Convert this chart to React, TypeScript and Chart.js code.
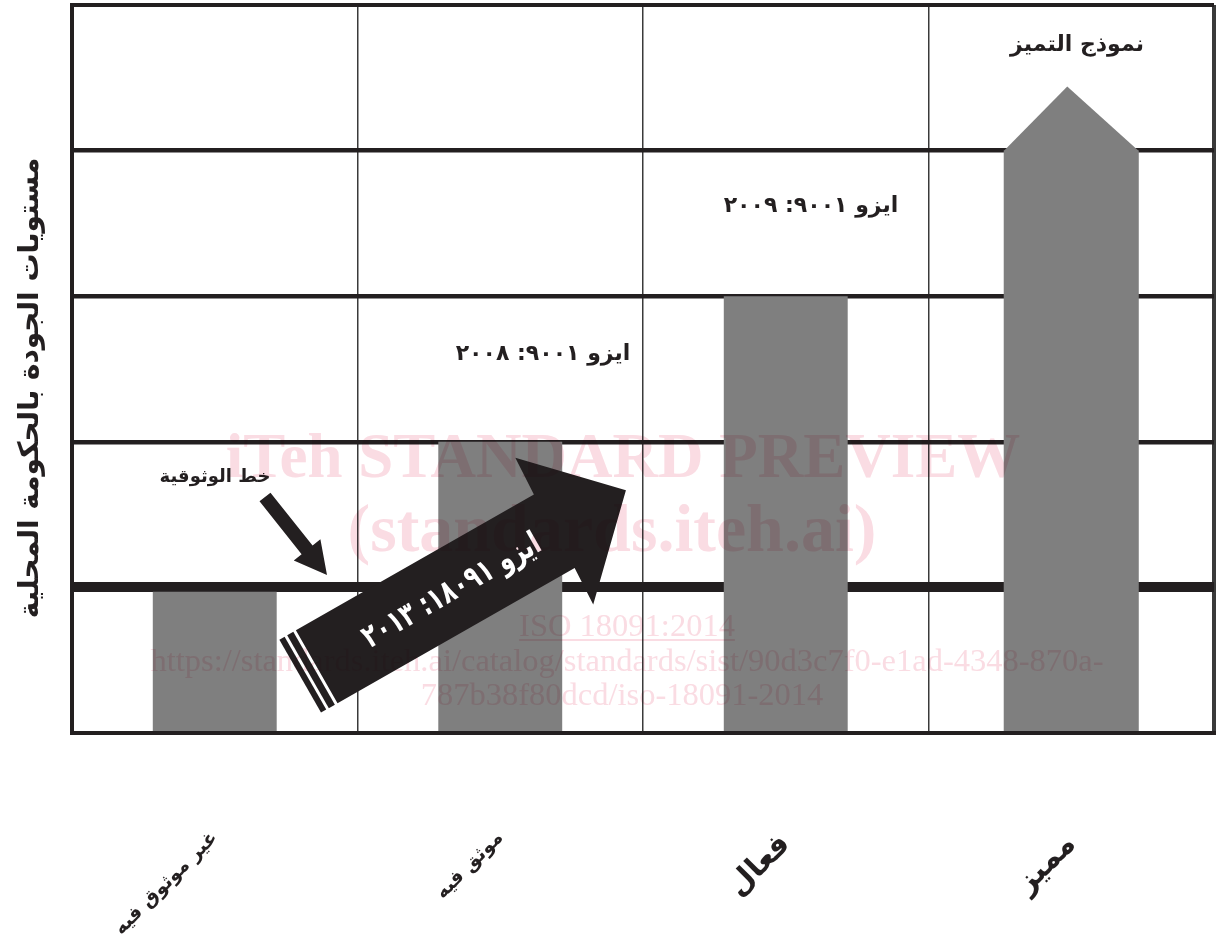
import React, { useEffect, useRef } from "react";
import { Chart, registerables } from "chart.js";

Chart.register(...registerables);

// ---------- data ----------
const categories = ["غير موثوق فيه", "موثق فيه", "فعال", "مميز"];
const levelValues = [0.97, 2, 3, null];
const excellenceValues = [null, null, null, 4];
const excellenceTip = 4.44;
const yTitle = "مستويات الجودة بالحكومة المحلية";
const noteTexts = ["نموذج التميز", "ايزو ٩٠٠١: ٢٠٠٩", "ايزو ٩٠٠١: ٢٠٠٨", "خط الوثوقية"];
const arrowText = "ايزو ١٨٠٩١: ٢٠١٣";
const watermarkBig = ["iTeh STANDARD PREVIEW", "(standards.iteh.ai)"];
const watermarkSmall = [
  "ISO 18091:2014",
  "https://standards.iteh.ai/catalog/standards/sist/90d3c7f0-e1ad-4348-870a-",
  "787b38f80dcd/iso-18091-2014",
];

const INK = "#231f20";
const BAR = "#7f7f7f";
const AR_FONT = "'DejaVu Sans', sans-serif";

const annotationPlugin = {
  id: "annotations",
  afterDatasetsDraw(chart: any) {
    const { ctx, chartArea: ca, scales } = chart;
    const sx = ca.width / 1142;
    const sy = ca.height / 728;
    const P = (x: number, y: number): [number, number] => [ca.left + (x - 72) * sx, ca.top + (y - 5) * sy];

    ctx.save();
    // roof of the excellence bar
    const meta = chart.getDatasetMeta(1);
    const el: any = meta.data[3];
    if (el) {
      const half = el.width / 2;
      const apexY = scales.y.getPixelForValue(excellenceTip);
      ctx.fillStyle = BAR;
      ctx.beginPath();
      ctx.moveTo(el.x - half, el.y + 0.5);
      ctx.lineTo(el.x - 4, apexY);
      ctx.lineTo(el.x + half, el.y + 0.5);
      ctx.closePath();
      ctx.fill();
    }

    // small arrow pointing at the reliability line
    {
      const [x0, y0] = P(265, 497);
      const [x1, y1] = P(327, 575);
      const L = Math.hypot(x1 - x0, y1 - y0);
      ctx.save();
      ctx.translate(x0, y0);
      ctx.rotate(Math.atan2(y1 - y0, x1 - x0));
      ctx.fillStyle = INK;
      ctx.beginPath();
      ctx.moveTo(0, -7);
      ctx.lineTo(L - 32, -7);
      ctx.lineTo(L - 32, -17);
      ctx.lineTo(L, 0);
      ctx.lineTo(L - 32, 17);
      ctx.lineTo(L - 32, 7);
      ctx.lineTo(0, 7);
      ctx.closePath();
      ctx.fill();
      ctx.restore();
    }

    // big arrow
    {
      const [ox, oy] = P(316.7, 666.7);
      ctx.save();
      ctx.translate(ox, oy);
      ctx.rotate(Math.atan2(-0.4955, 0.8686));
      ctx.fillStyle = INK;
      ctx.fillRect(-19, -42, 6, 84);
      ctx.fillRect(-10, -42, 7, 84);
      ctx.beginPath();
      ctx.moveTo(0, -42);
      ctx.lineTo(274, -42);
      ctx.lineTo(276, -83);
      ctx.lineTo(356, 0);
      ctx.lineTo(271, 83);
      ctx.lineTo(273, 42);
      ctx.lineTo(0, 42);
      ctx.closePath();
      ctx.fill();
      ctx.fillStyle = "#ffffff";
      ctx.font = `bold 32px ${AR_FONT}`;
      ctx.textAlign = "center";
      ctx.textBaseline = "middle";
      ctx.fillText(arrowText, 155, 2, 200);
      ctx.restore();
    }

    // notes
    ctx.fillStyle = INK;
    ctx.textAlign = "center";
    ctx.textBaseline = "middle";
    const notePos: [number, number, number][] = [
      [1077, 45, 22],
      [811, 206, 22],
      [543, 354, 22],
      [215, 477, 18],
    ];
    noteTexts.forEach((t, i) => {
      const [x, y] = P(notePos[i][0], notePos[i][1]);
      ctx.font = `bold ${notePos[i][2]}px ${AR_FONT}`;
      ctx.fillText(t, x, y);
    });

    // y axis title
    {
      const [x, y] = P(31, 388);
      ctx.save();
      ctx.translate(x, y);
      ctx.rotate(-Math.PI / 2);
      ctx.font = `bold 28px ${AR_FONT}`;
      ctx.fillText(yTitle, 0, 0);
      ctx.restore();
    }
    ctx.restore();
  },
  afterDraw(chart: any) {
    const { ctx, chartArea: ca } = chart;
    const sx = ca.width / 1142;
    const sy = ca.height / 728;
    const P = (x: number, y: number): [number, number] => [ca.left + (x - 72) * sx, ca.top + (y - 5) * sy];
    ctx.save();
    ctx.globalCompositeOperation = "multiply";
    ctx.fillStyle = "#fadce3";
    ctx.strokeStyle = "#fadce3";
    ctx.textAlign = "center";
    ctx.textBaseline = "alphabetic";
    ctx.font = "bold 63px 'Liberation Serif', serif";
    let [x, y] = P(623, 477);
    ctx.fillText(watermarkBig[0], x, y);
    ctx.font = "bold 68px 'Liberation Serif', serif";
    [x, y] = P(612, 551);
    ctx.fillText(watermarkBig[1], x, y);
    ctx.font = "32.5px 'Liberation Serif', serif";
    [x, y] = P(627, 636);
    ctx.fillText(watermarkSmall[0], x, y);
    const w = ctx.measureText(watermarkSmall[0]).width;
    ctx.lineWidth = 2;
    ctx.beginPath();
    ctx.moveTo(x - w / 2, y + 4);
    ctx.lineTo(x + w / 2, y + 4);
    ctx.stroke();
    [x, y] = P(627, 671);
    ctx.fillText(watermarkSmall[1], x, y);
    [x, y] = P(622, 705);
    ctx.fillText(watermarkSmall[2], x, y);
    ctx.restore();
  },
};

export default function App() {
  const ref = useRef<HTMLCanvasElement>(null);
  useEffect(() => {
    if (!ref.current) return;
    const chart = new Chart(ref.current, {
      type: "bar",
      data: {
        labels: categories,
        datasets: [
          {
            data: levelValues as any,
            backgroundColor: BAR,
            borderWidth: 0,
            barPercentage: 0.434,
            categoryPercentage: 1,
            grouped: false,
          } as any,
          {
            data: excellenceValues as any,
            backgroundColor: BAR,
            borderWidth: 0,
            barPercentage: 0.473,
            categoryPercentage: 1,
            grouped: false,
          } as any,
        ],
      },
      options: {
        responsive: false,
        animation: false,
        devicePixelRatio: 1,
        layout: { padding: { left: 6, top: 5, right: 7, bottom: 0 } },
        plugins: { legend: { display: false }, tooltip: { enabled: false } },
        scales: {
          x: {
            offset: true,
            grid: {
              offset: true,
              drawTicks: false,
              color: "#3a3a3a",
              lineWidth: (c: any) => (c.index === undefined || c.index === 0 ? 4 : 1.5),
            },
            border: { display: true, width: 4, color: INK },
            ticks: {
              autoSkip: false,
              maxRotation: 45,
              minRotation: 45,
              padding: 94,
              color: INK,
              font: (c: any) => ({
                family: "'DejaVu Sans', sans-serif",
                size: c.index >= 2 ? 30 : 19,
                weight: "bold",
              }),
            },
            afterFit: (axis: any) => {
              axis.height = 202;
            },
          },
          y: {
            min: 0,
            max: 5,
            ticks: { display: false, stepSize: 1 },
            grid: {
              drawTicks: false,
              color: INK,
              lineWidth: (c: any) => {
                const v = c.tick ? c.tick.value : 0;
                if (v === 1) return 10;
                if (v === 0 || v === 5) return 4;
                return 4.5;
              },
            },
            border: { display: true, width: 4, color: INK },
            title: { display: false },
            afterFit: (axis: any) => {
              axis.width = 66;
            },
          },
        },
      } as any,
      plugins: [annotationPlugin],
    });
    return () => chart.destroy();
  }, []);
  return (
    <div style={{ position: "absolute", left: 0, top: 0, width: 1221, height: 935, background: "#fff" }}>
      <canvas ref={ref} width={1221} height={935} style={{ display: "block" }} />
    </div>
  );
}
